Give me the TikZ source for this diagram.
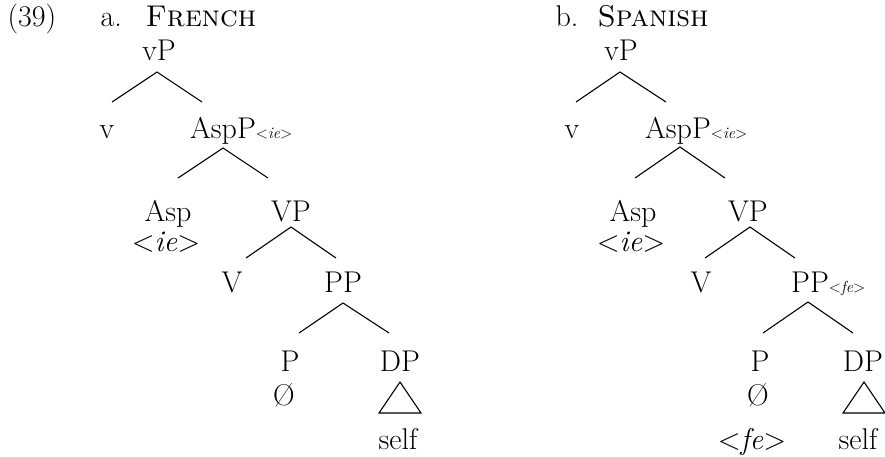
\documentclass[tikz,border=0pt]{standalone}
\usepackage{tikz}

\newcommand{\featsub}[1]{\rlap{\fontsize{16}{16}\selectfont\textless\textit{#1}\textgreater}}
\newcommand{\featfull}[1]{\textless\textit{#1}\textgreater}

\begin{document}
\begin{tikzpicture}[x=1pt, y=-1pt, line width=1.1pt,
    every node/.style={inner sep=0pt, anchor=base, font=\fontsize{30}{36}\selectfont},
    title/.style={anchor=base west}]
    \useasboundingbox (0,0) rectangle (885,456);

    % Example number and headings
    \node[title] (exnum) at (7,26) {(39)};
    \node[title] (alab) at (100,26) {a.};
    \node[title] (aname) at (145,26) {\textsc{French}};
    \node[title] (blab) at (555,26) {b.};
    \node[title] (bname) at (597,26) {\textsc{Spanish}};

    % Tree a: French
    \node (avP) at (159,60) {vP};
    \node (av) at (107,138) {v};
    \node (aAspP) at (223,138) {AspP\featsub{ie}};
    \node (aAsp) at (168,221) {Asp};
    \node (aie) at (166,251) {\featfull{ie}};
    \node (aVP) at (291,221) {VP};
    \node (aV) at (232,292) {V};
    \node (aPP) at (343,292) {PP};
    \node (aP) at (290,371) {P};
    \node (anull) at (284,405) {\O};
    \node (aDP) at (400,371) {DP};
    \node (aself) at (398,449) {self};

    \coordinate (avP-a) at (157,72);
    \coordinate (avP-l) at (112,102);
    \coordinate (avP-r) at (202,102);
    \coordinate (aAspP-a) at (223,148);
    \coordinate (aAspP-l) at (178,178);
    \coordinate (aAspP-r) at (268,178);
    \coordinate (aVP-a) at (291,227);
    \coordinate (aVP-l) at (246,258);
    \coordinate (aVP-r) at (336,258);
    \coordinate (aPP-a) at (343,303);
    \coordinate (aPP-l) at (299,333);
    \coordinate (aPP-r) at (389,333);
    \coordinate (aDP-t) at (400,382);
    \coordinate (aDP-l) at (379,413);
    \coordinate (aDP-r) at (421,413);

    \draw (avP-l) -- (avP-a) -- (avP-r);
    \draw (aAspP-l) -- (aAspP-a) -- (aAspP-r);
    \draw (aVP-l) -- (aVP-a) -- (aVP-r);
    \draw (aPP-l) -- (aPP-a) -- (aPP-r);
    \draw (aDP-t) -- (aDP-l) -- (aDP-r) -- cycle;

    % Tree b: Spanish
    \node (bvP) at (621,60) {vP};
    \node (bv) at (572,138) {v};
    \node (bAspP) at (678,138) {AspP\featsub{ie}};
    \node (bAsp) at (633,221) {Asp};
    \node (bie) at (631,251) {\featfull{ie}};
    \node (bVP) at (748,221) {VP};
    \node (bV) at (701,292) {V};
    \node (bPP) at (810,292) {PP\featsub{fe}};
    \node (bP) at (760,371) {P};
    \node (bnull) at (758,405) {\O};
    \node (bfe) at (752,449) {\featfull{fe}};
    \node (bDP) at (863,371) {DP};
    \node (bself) at (858,449) {self};

    \coordinate (bvP-a) at (620,72);
    \coordinate (bvP-l) at (576,102);
    \coordinate (bvP-r) at (666,102);
    \coordinate (bAspP-a) at (680,147);
    \coordinate (bAspP-l) at (635,178);
    \coordinate (bAspP-r) at (725,178);
    \coordinate (bVP-a) at (750,227);
    \coordinate (bVP-l) at (705,258);
    \coordinate (bVP-r) at (795,258);
    \coordinate (bPP-a) at (808,302);
    \coordinate (bPP-l) at (763,333);
    \coordinate (bPP-r) at (853,333);
    \coordinate (bDP-t) at (864,382);
    \coordinate (bDP-l) at (843,413);
    \coordinate (bDP-r) at (885,413);

    \draw (bvP-l) -- (bvP-a) -- (bvP-r);
    \draw (bAspP-l) -- (bAspP-a) -- (bAspP-r);
    \draw (bVP-l) -- (bVP-a) -- (bVP-r);
    \draw (bPP-l) -- (bPP-a) -- (bPP-r);
    \draw (bDP-t) -- (bDP-l) -- (bDP-r) -- cycle;
\end{tikzpicture}
\end{document}
